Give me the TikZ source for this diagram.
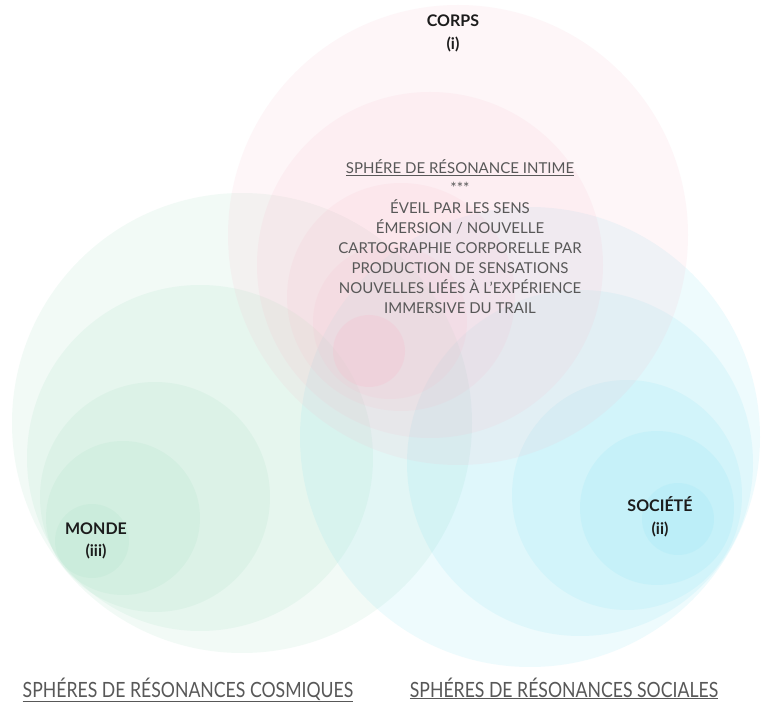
\documentclass[tikz,border=0pt]{standalone}
\usepackage{fontspec}
\setmainfont{Lato}
\usetikzlibrary{calc}
\definecolor{corpsrose}{RGB}{252,182,200}
\definecolor{mondevert}{RGB}{149,219,185}
\definecolor{socbleu}{RGB}{117,223,244}
\definecolor{textegris}{RGB}{88,88,88}
\definecolor{titrenoir}{RGB}{28,28,28}
\tikzset{
	bulle/.style={fill=#1, fill opacity=0.12, draw=none},
	pole/.style={font=\bfseries\fontsize{16}{23}\selectfont, text=titrenoir, align=center, inner sep=0pt},
	recit/.style={font=\fontsize{15}{20}\selectfont, text=textegris, align=center, inner sep=0pt},
	legende/.style={font=\fontsize{21}{24}\selectfont, text=textegris, inner sep=0pt}
}

\begin{document}
\begin{tikzpicture}[x=1pt, y=-1pt]
			%%%%% START %%%%%
			
			\fill[white] (0, 0) rectangle (764, 703);
			\useasboundingbox (0, 0) rectangle (764, 703);
			
			% monde
			\draw[bulle=mondevert] (242, 423) circle (230pt);
			\draw[bulle=mondevert] (200, 458) circle (173pt);
			\draw[bulle=mondevert] (155, 497) circle (115pt);
			\draw[bulle=mondevert] (123, 518) circle (77pt);
			\draw[bulle=mondevert] (92, 541) circle (37pt);
			
			% societe
			\draw[bulle=socbleu] (530, 437) circle (230pt);
			\draw[bulle=socbleu] (580, 463) circle (173pt);
			\draw[bulle=socbleu] (627, 495) circle (115pt);
			\draw[bulle=socbleu] (657, 508) circle (77pt);
			\draw[bulle=socbleu] (678, 519) circle (36pt);
			
			% corps
			\draw[bulle=corpsrose] (458, 235) circle (230pt);
			\draw[bulle=corpsrose] (430, 265) circle (173pt);
			\draw[bulle=corpsrose] (401, 297) circle (114pt);
			\draw[bulle=corpsrose] (390, 322) circle (77pt);
			\draw[bulle=corpsrose, fill opacity=0.22] (369, 351) circle (36pt);
			
			% the base of a two-line node is its last line
			\node[pole, anchor=base] (corps) at (453, 50) {CORPS\\(i)};
			\node[pole, anchor=base] (monde) at (96, 557) {MONDE\\(iii)};
			\node[pole, anchor=base] (societe) at (660, 534) {SOCIÉTÉ\\(ii)};
			
			\node[recit, anchor=base] (intime) at (460, 314) {\underline{SPHÉRE DE RÉSONANCE INTIME}\\
				***\\
				ÉVEIL PAR LES SENS\\
				ÉMERSION / NOUVELLE\\
				CARTOGRAPHIE CORPORELLE PAR\\
				PRODUCTION DE SENSATIONS\\
				NOUVELLES LIÉES À L’EXPÉRIENCE\\
				IMMERSIVE DU TRAIL};
			
			\node[legende, anchor=base] (cosmiques) at (188, 697) {\scalebox{0.84}[1]{\underline{SPHÉRES DE RÉSONANCES COSMIQUES}}};
			\node[legende, anchor=base] (sociales) at (564, 697) {\scalebox{0.84}[1]{\underline{SPHÉRES DE RÉSONANCES SOCIALES}}};
			
			%%%%% END %%%%%
\end{tikzpicture}
\end{document}
